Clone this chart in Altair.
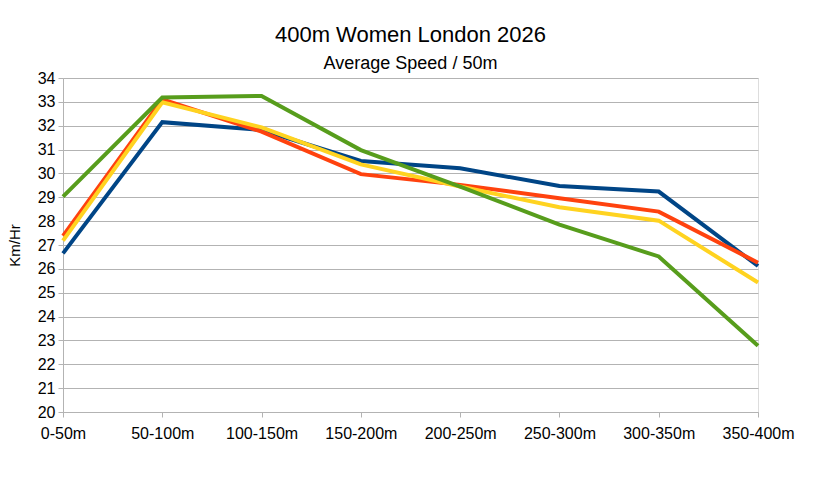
import altair as alt
import pandas as pd

segments = ["0-50m", "50-100m", "100-150m", "150-200m", "200-250m", "250-300m", "300-350m", "350-400m"]
series_names = ["Series 1", "Series 2", "Series 3", "Series 4"]
blue = [26.65, 32.15, 31.82, 30.52, 30.22, 29.47, 29.24, 26.12]
red = [27.38, 33.10, 31.75, 29.97, 29.52, 28.96, 28.40, 26.26]
yellow = [27.18, 32.98, 31.93, 30.38, 29.45, 28.58, 28.02, 25.43]
green = [29.03, 33.18, 33.25, 30.98, 29.45, 27.85, 26.52, 22.78]
colors = ["#004586", "#ff420e", "#ffd320", "#579d1c"]

rows = []
for name, vals in zip(series_names, [blue, red, yellow, green]):
    for seg, v in zip(segments, vals):
        rows.append({"segment": seg, "speed": v, "series": name})
df = pd.DataFrame(rows)

grid = "#b3b3b3"

chart = alt.Chart(df).mark_line(strokeWidth=4, strokeJoin="miter").encode(
    x=alt.X("segment:N", sort=segments, scale=alt.Scale(type="point", padding=0),
            axis=alt.Axis(title=None, labelAngle=0, labelFontSize=16, labelFont="Liberation Sans",
                          labelColor="#000000", domainColor=grid, tickColor=grid, tickSize=5,
                          labelPadding=8, grid=False)),
    y=alt.Y("speed:Q", scale=alt.Scale(domain=[20, 34], nice=False, zero=False),
            axis=alt.Axis(title="Km/Hr", values=list(range(20, 35)), labelFontSize=16,
                          labelFont="Liberation Sans", labelColor="#000000", domainColor=grid,
                          tickColor=grid, tickSize=5, labelPadding=3, gridColor=grid,
                          titleFont="Liberation Sans", titleFontSize=15, titleFontWeight="normal",
                          titleColor="#000000", titleX=-49, titleY=167, titleBaseline="middle",
                          titleAngle=270)),
    color=alt.Color("series:N", scale=alt.Scale(domain=series_names, range=colors), legend=None),
    order=alt.Order("series:N"),
).properties(
    width=695,
    height=334,
    padding={"left": 55, "top": 70, "right": 48, "bottom": 64},
    autosize=alt.AutoSizeParams(type="none"),
    title=alt.TitleParams(
        text="400m Women London 2026",
        subtitle="Average Speed / 50m",
        font="Liberation Sans", fontSize=22, fontWeight="normal", color="#000000",
        subtitleFont="Liberation Sans", subtitleFontSize=18, subtitleColor="#000000",
        anchor="middle", offset=-4, subtitlePadding=8,
    ),
).configure_view(stroke=grid, strokeWidth=1).configure(background="white")

chart.save("out.html", embed_options={"renderer": "svg", "actions": False})
